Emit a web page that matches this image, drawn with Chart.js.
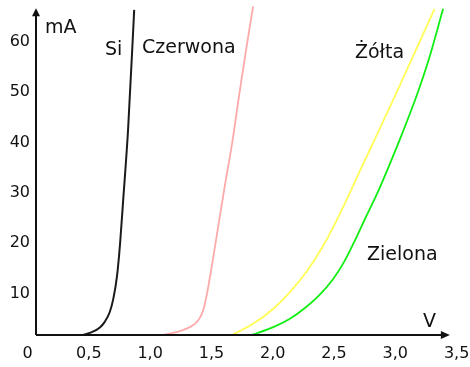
<!DOCTYPE html>
<html lang="pl">
<head>
<meta charset="UTF-8">
<title>Charakterystyki diod</title>
<script src="https://cdn.jsdelivr.net/npm/chart.js"></script>
<style>
  body { margin: 0; background: #fff; }
  #wrap { width: 470px; height: 367px; }
</style>
</head>
<body>
<div id="wrap"><canvas id="c"></canvas></div>
<script>
// napięcie [V] i prąd [mA]
const siV = [0.45, 0.52, 0.59, 0.63, 0.67, 0.70, 0.73, 0.755, 0.78, 0.82, 0.87];
const siMA = [1.8, 2.3, 3.3, 4.4, 6.3, 9.0, 13.5, 20.0, 28.5, 42.5, 66.3];

const redV = [1.10, 1.22, 1.32, 1.39, 1.43, 1.46, 1.50, 1.55, 1.61, 1.67, 1.73, 1.79, 1.84];
const redMA = [1.8, 2.4, 3.3, 4.6, 6.5, 9.5, 15.0, 22.5, 31.5, 40.0, 50.0, 59.5, 67.0];

const yellowV = [1.67, 1.84, 2.00, 2.14, 2.28, 2.40, 2.50, 2.61, 2.72, 2.84, 2.98, 3.14, 3.32];
const yellowMA = [1.8, 4.0, 6.9, 10.3, 14.5, 19.0, 23.5, 29.0, 34.8, 41.0, 48.3, 56.8, 66.5];

const greenV = [1.83, 2.00, 2.14, 2.26, 2.38, 2.49, 2.58, 2.67, 2.76, 2.86, 2.96, 3.06, 3.17, 3.28, 3.39];
const greenMA = [1.8, 3.3, 5.0, 7.1, 9.7, 12.8, 16.2, 20.5, 25.2, 30.3, 36.0, 42.0, 49.0, 57.0, 66.5];

const xTickValues = [0, 0.5, 1, 1.5, 2, 2.5, 3, 3.5];
const xTickLabels = ['0', '0,5', '1,0', '1,5', '2,0', '2,5', '3,0', '3,5'];
const yTickValues = [10, 20, 30, 40, 50, 60];
const yTickLabels = ['10', '20', '30', '40', '50', '60'];

// podpisy krzywych i osi: [tekst, V, mA] (lewy brzeg, linia bazowa)
const labels = [
  ['mA', 0.143, 61.7],
  ['Si', 0.632, 57.3],
  ['Czerwona', 0.934, 57.7],
  ['Żółta', 2.671, 56.7],
  ['Zielona', 2.769, 16.7],
  ['V', 3.226, 3.4]
];

const zip = (xs, ys) => xs.map((x, i) => ({ x, y: ys[i] }));
const FONT = 'DejaVu Sans';

const curve = (data, color, width) => ({
  data,
  borderColor: color,
  borderWidth: width,
  pointRadius: 0,
  cubicInterpolationMode: 'monotone',
  fill: false
});

const axesPlugin = {
  id: 'axes',
  afterDraw(chart) {
    const { ctx, scales: { x, y } } = chart;
    const ox = x.getPixelForValue(0.069);
    const oy = y.getPixelForValue(1.79);
    const top = y.getPixelForValue(66.6);
    const right = x.getPixelForValue(3.445);
    ctx.save();
    ctx.strokeStyle = '#111';
    ctx.fillStyle = '#111';
    ctx.lineWidth = 2;
    ctx.beginPath();
    ctx.moveTo(ox, oy);
    ctx.lineTo(ox, top + 6);
    ctx.moveTo(ox, oy);
    ctx.lineTo(right - 6, oy);
    ctx.stroke();
    // groty strzałek
    ctx.beginPath();
    ctx.moveTo(ox, top);
    ctx.lineTo(ox - 4, top + 8);
    ctx.lineTo(ox + 4, top + 8);
    ctx.closePath();
    ctx.fill();
    ctx.beginPath();
    ctx.moveTo(right, oy);
    ctx.lineTo(right - 9, oy - 4);
    ctx.lineTo(right - 9, oy + 4);
    ctx.closePath();
    ctx.fill();

    ctx.fillStyle = '#111';
    ctx.font = '19px "' + FONT + '"';
    ctx.textAlign = 'left';
    ctx.textBaseline = 'alphabetic';
    labels.forEach(([text, v, ma]) => {
      ctx.fillText(text, x.getPixelForValue(v), y.getPixelForValue(ma));
    });
    ctx.restore();
  }
};

new Chart(document.getElementById('c'), {
  type: 'line',
  data: {
    datasets: [
      curve(zip(siV, siMA), '#1a1a1a', 2),
      curve(zip(redV, redMA), '#ffaaaa', 1.8),
      curve(zip(yellowV, yellowMA), '#ffff55', 1.8),
      curve(zip(greenV, greenMA), '#11ee11', 1.8)
    ]
  },
  options: {
    responsive: true,
    maintainAspectRatio: false,
    animation: false,
    layout: { padding: { left: 0, top: 4, right: 13.4, bottom: 0 } },
    plugins: { legend: { display: false }, tooltip: { enabled: false } },
    scales: {
      x: {
        type: 'linear',
        min: 0.069,
        max: 3.5,
        grid: { display: false, drawTicks: false },
        border: { display: false },
        afterBuildTicks: s => { s.ticks = xTickValues.map(v => ({ value: v })); },
        afterFit: s => { s.height = 32; s.paddingLeft = 0; s.paddingRight = 0; },
        ticks: {
          autoSkip: false,
          maxRotation: 0,
          padding: 9,
          color: '#111',
          font: { family: FONT, size: 16 },
          callback: (v, i) => xTickLabels[i]
        }
      },
      y: {
        type: 'linear',
        min: 1.79,
        max: 67.46,
        grid: { display: false, drawTicks: false },
        border: { display: false },
        afterBuildTicks: s => { s.ticks = yTickValues.map(v => ({ value: v })); },
        afterFit: s => { s.width = 36; s.paddingTop = 0; s.paddingBottom = 0; },
        ticks: {
          padding: 6,
          color: '#111',
          font: { family: FONT, size: 16 },
          callback: (v, i) => yTickLabels[i]
        }
      }
    }
  },
  plugins: [axesPlugin]
});
</script>
</body>
</html>
